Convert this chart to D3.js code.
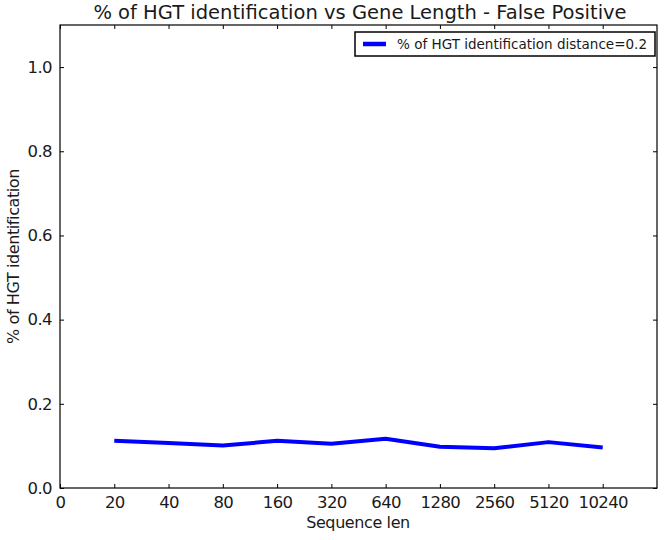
<!DOCTYPE html>
<html><head><meta charset="utf-8">
<script src="https://cdn.jsdelivr.net/npm/d3@7"></script>
<style>body{margin:0;background:#fff;} text{font-family:"DejaVu Sans",sans-serif;}</style>
</head><body>
<svg id="chart" width="666" height="540"></svg>
<script>
const tickLabels = ["0","20","40","80","160","320","640","1280","2560","5120","10240"];
const categories = ["20","40","80","160","320","640","1280","2560","5120","10240"];
const values = [0.112, 0.107, 0.101, 0.112, 0.105, 0.117, 0.098, 0.0945, 0.109, 0.096];
const yTicks = [0.0, 0.2, 0.4, 0.6, 0.8, 1.0];
const seriesName = "% of HGT identification distance=0.2";

const svg = d3.select("#chart");
const L = 60, R = 657, T = 25, B = 488;
const x = d3.scaleLinear().domain([0, 11]).range([L, R]);
const y = d3.scaleLinear().domain([0, 1.1]).range([B, T]);

svg.append("rect").attr("x",0).attr("y",0).attr("width",666).attr("height",540).attr("fill","#fff");

// axes
const xAxis = d3.axisBottom(x).tickValues(d3.range(tickLabels.length)).tickFormat(i => tickLabels[i]).tickSizeInner(-4).tickSizeOuter(0).tickPadding(8);
svg.append("g").attr("transform",`translate(0,${B})`).call(xAxis);
const xTop = d3.axisTop(x).tickValues(d3.range(tickLabels.length)).tickFormat("").tickSizeInner(-4).tickSizeOuter(0);
svg.append("g").attr("transform",`translate(0,${T})`).call(xTop);
const yAxis = d3.axisLeft(y).tickValues(yTicks).tickFormat(d3.format(".1f")).tickSizeInner(-4).tickSizeOuter(0).tickPadding(8);
svg.append("g").attr("transform",`translate(${L},0)`).call(yAxis);
const yRight = d3.axisRight(y).tickValues(yTicks).tickFormat("").tickSizeInner(-4).tickSizeOuter(0);
svg.append("g").attr("transform",`translate(${R},0)`).call(yRight);
svg.selectAll(".domain").remove();
svg.selectAll(".tick line").attr("stroke","#000").attr("stroke-width",1);
svg.selectAll(".tick text").attr("font-size","16.5px").attr("letter-spacing","-0.6px").attr("fill","#1a1a1a").attr("font-family","DejaVu Sans");

// frame
svg.append("rect").attr("x",L).attr("y",T).attr("width",R-L).attr("height",B-T)
  .attr("fill","none").attr("stroke","#000").attr("stroke-width",1.2);

// line
const line = d3.line().x((d,i)=>x(i+1)).y(d=>y(d));
svg.append("path").datum(values).attr("d",line).attr("fill","none")
  .attr("stroke","#0000ff").attr("stroke-width",4).attr("stroke-linejoin","round");

// title & labels
svg.append("text").attr("x",360).attr("y",19).attr("text-anchor","middle")
  .attr("font-size","19.5px").attr("fill","#1a1a1a").text("% of HGT identification vs Gene Length - False Positive");
svg.append("text").attr("x",358).attr("y",528).attr("text-anchor","middle")
  .attr("font-size","16px").attr("letter-spacing","-0.4px").attr("fill","#1a1a1a").text("Sequence len");
svg.append("text").attr("transform",`translate(19,${(T+B)/2}) rotate(-90)`).attr("text-anchor","middle")
  .attr("font-size","16px").attr("letter-spacing","-0.4px").attr("fill","#1a1a1a").text("% of HGT identification");

// legend
const lg = svg.append("g");
lg.append("rect").attr("x",355).attr("y",32).attr("width",300).attr("height",24)
  .attr("fill","#fff").attr("stroke","#000").attr("stroke-width",1.5);
lg.append("line").attr("x1",363).attr("x2",386).attr("y1",44).attr("y2",44)
  .attr("stroke","#0000ff").attr("stroke-width",4.5);
lg.append("text").attr("x",397).attr("y",49).attr("font-size","14.5px").attr("fill","#1a1a1a")
  .attr("textLength",250).attr("lengthAdjust","spacingAndGlyphs").text(seriesName);
</script>
</body></html>
